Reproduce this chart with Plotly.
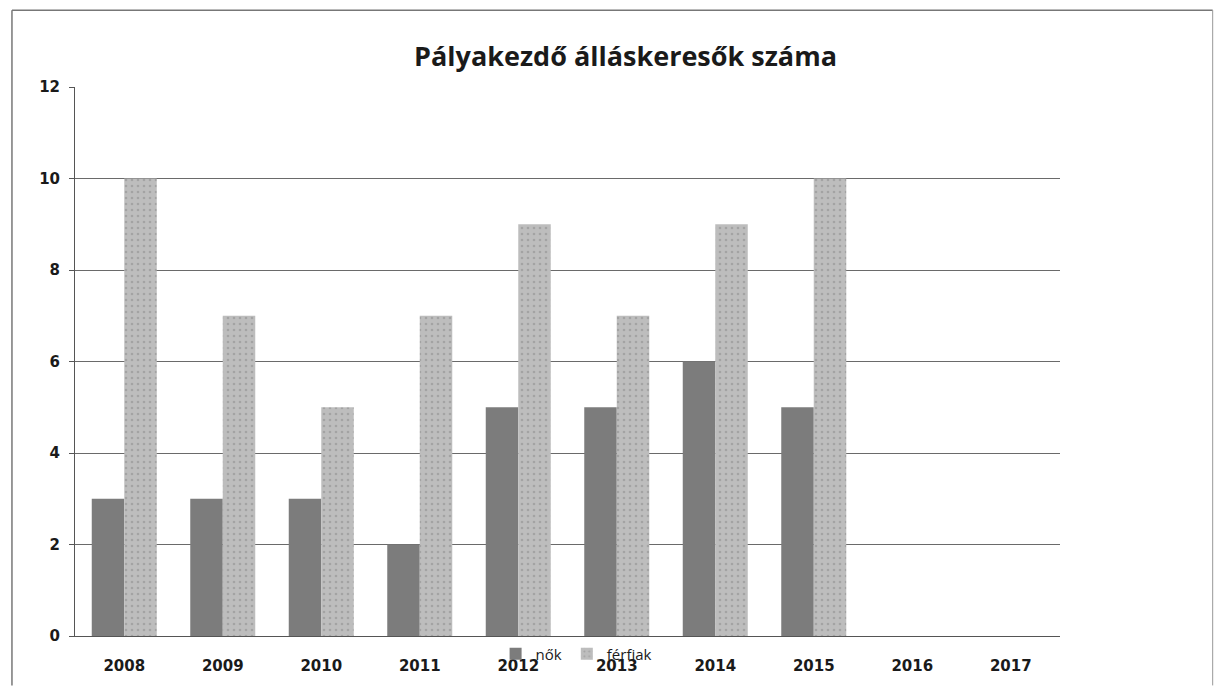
import plotly.graph_objects as go

years = ["2008", "2009", "2010", "2011", "2012", "2013", "2014", "2015", "2016", "2017"]
nok = [3, 3, 3, 2, 5, 5, 6, 5, None, None]
ferfiak = [10, 7, 5, 7, 9, 7, 9, 10, None, None]
y_ticks = [0, 2, 4, 6, 8, 10, 12]

fig = go.Figure()
fig.add_trace(go.Bar(
    x=years, y=nok, name="nők",
    marker=dict(color="#7c7c7c", line=dict(width=0)),
))
fig.add_trace(go.Bar(
    x=years, y=ferfiak, name="férfiak",
    marker=dict(color="#bdbdbd", line=dict(width=0),
                pattern=dict(shape=".", fgcolor="#8a8a8a", size=6, solidity=0.15)),
))

fig.update_layout(
    width=1217, height=687,
    paper_bgcolor="white", plot_bgcolor="white",
    margin=dict(l=75, r=157, t=87, b=51, autoexpand=False),
    barmode="group", bargap=0.34, bargroupgap=0,
    title=dict(text="<b>Pályakezdő álláskeresők száma</b>", x=0.514, xanchor="center",
               y=0.917, yanchor="middle",
               font=dict(family="Open Sans, DejaVu Sans", size=27, color="#1a1a1a")),
    font=dict(family="DejaVu Sans", color="#1a1a1a"),
    xaxis=dict(showgrid=False, showline=True, linecolor="#555555", linewidth=1,
               ticks="", tickfont=dict(size=15, family="DejaVu Sans", weight="bold"),
               ticklabelstandoff=16, automargin=False),
    yaxis=dict(range=[0, 12], tickvals=y_ticks, showgrid=True, gridcolor="#6a6a6a",
               gridwidth=1, showline=True, linecolor="#555555", linewidth=1,
               ticks="outside", ticklen=5, tickcolor="#555555",
               tickfont=dict(size=15, family="DejaVu Sans", weight="bold"),
               ticklabelstandoff=6, zeroline=False, automargin=False),
    legend=dict(orientation="h", x=0.427, xanchor="left", y=-0.033, yanchor="middle",
                font=dict(size=15, family="Open Sans, DejaVu Sans"),
                bgcolor="rgba(0,0,0,0)", itemwidth=30, tracegroupgap=0),
    shapes=[
        dict(type="line", xref="paper", yref="paper", x0=-0.064, x1=1.155, y0=1.14, y1=1.14,
             line=dict(color="#777777", width=1.5)),
        dict(type="line", xref="paper", yref="paper", x0=-0.064, x1=-0.064, y0=1.14, y1=-0.09,
             line=dict(color="#777777", width=1.5)),
        dict(type="line", xref="paper", yref="paper", x0=1.155, x1=1.155, y0=1.14, y1=-0.09,
             line=dict(color="#999999", width=1)),
    ],
)

fig.write_html("out.html", config={"displayModeBar": False},
               post_script="document.body.style.margin='0';")
